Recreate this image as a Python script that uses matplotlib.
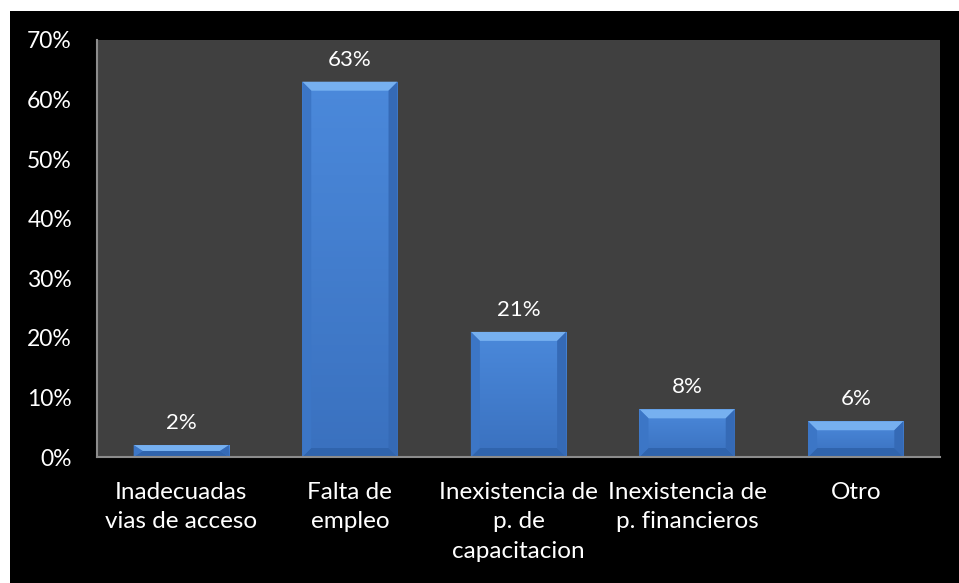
import numpy as np
import matplotlib.pyplot as plt
from matplotlib.patches import Rectangle, Polygon
from matplotlib.colors import LinearSegmentedColormap

categorias = ['Inadecuadas\nvias de acceso', 'Falta de\nempleo',
              'Inexistencia de\np. de\ncapacitacion',
              'Inexistencia de\np. financieros', 'Otro']
porcentajes = [0.02, 0.63, 0.21, 0.08, 0.06]
ticks_y = [0.0, 0.1, 0.2, 0.3, 0.4, 0.5, 0.6, 0.7]

plt.rcParams['font.family'] = ['Lato', 'DejaVu Sans']

fig = plt.figure(figsize=(9.59, 5.83), dpi=100, facecolor='white')
# black chart area with a thin white margin top/left
fig.patches.append(Rectangle((10 / 959, 0), 1, 572 / 583, transform=fig.transFigure,
                             facecolor='black', edgecolor='none', zorder=-5))

ax = fig.add_axes([97 / 959, 126 / 583, 843 / 959, 417 / 583])
ax.set_zorder(1)
ax.set_facecolor('#404040')

x = np.arange(len(categorias))
ancho = 0.565
barras = ax.bar(x, porcentajes, width=ancho, color='#4382d5', edgecolor='none', zorder=2)

# vertical gradient + bevel on each bar
grad = LinearSegmentedColormap.from_list('g', ['#3a71bf', '#4b89db'])
px_y = 0.7 / 417.0
px_x = (len(categorias)) / 843.0
for b in barras:
    x0, w, h = b.get_x(), b.get_width(), b.get_height()
    im = ax.imshow(np.linspace(0, 1, 64).reshape(-1, 1), cmap=grad, origin='lower',
                   extent=[x0, x0 + w, 0, h], aspect='auto', zorder=2.1)
    im.set_clip_path(b)
    by = min(9 * px_y, h / 2)
    bx = 9 * px_x
    x1, y1 = x0 + w, h
    # top bevel (light), bottom (dark), sides
    ax.add_patch(Polygon([(x0, y1), (x1, y1), (x1 - bx, y1 - by), (x0 + bx, y1 - by)],
                         facecolor='#76b0f0', edgecolor='none', zorder=2.2))
    ax.add_patch(Polygon([(x0, 0), (x1, 0), (x1 - bx, by), (x0 + bx, by)],
                         facecolor='#3064ad', edgecolor='none', zorder=2.2))
    ax.add_patch(Polygon([(x0, 0), (x0, y1), (x0 + bx, y1 - by), (x0 + bx, by)],
                         facecolor='#3c76c6', edgecolor='none', zorder=2.2))
    ax.add_patch(Polygon([(x1, 0), (x1, y1), (x1 - bx, y1 - by), (x1 - bx, by)],
                         facecolor='#356ab6', edgecolor='none', zorder=2.2))
    ax.text(x0 + w / 2, h + 12 * px_y, '{:.0%}'.format(h), ha='center', va='bottom',
            color='white', fontsize=16, zorder=3)

ax.set_xlim(-0.5, len(categorias) - 0.5)
ax.set_ylim(0, 0.7)

ax.set_xticks(x)
ax.set_xticklabels(categorias, color='white', fontsize=17.5, linespacing=1.5)
ax.set_yticks(ticks_y)
ax.set_yticklabels(['{:.0%}'.format(t) for t in ticks_y], color='white', fontsize=16.5)
ax.tick_params(axis='x', length=0, pad=18)
ax.tick_params(axis='y', length=0, pad=18)

for lado in ['top', 'right']:
    ax.spines[lado].set_visible(False)
ax.spines['left'].set_color('#8c8c8c')
ax.spines['bottom'].set_color('#8c8c8c')
ax.spines['left'].set_linewidth(1.5)
ax.spines['bottom'].set_linewidth(1.5)

fig.savefig('out.png', dpi=100, facecolor=fig.get_facecolor())
